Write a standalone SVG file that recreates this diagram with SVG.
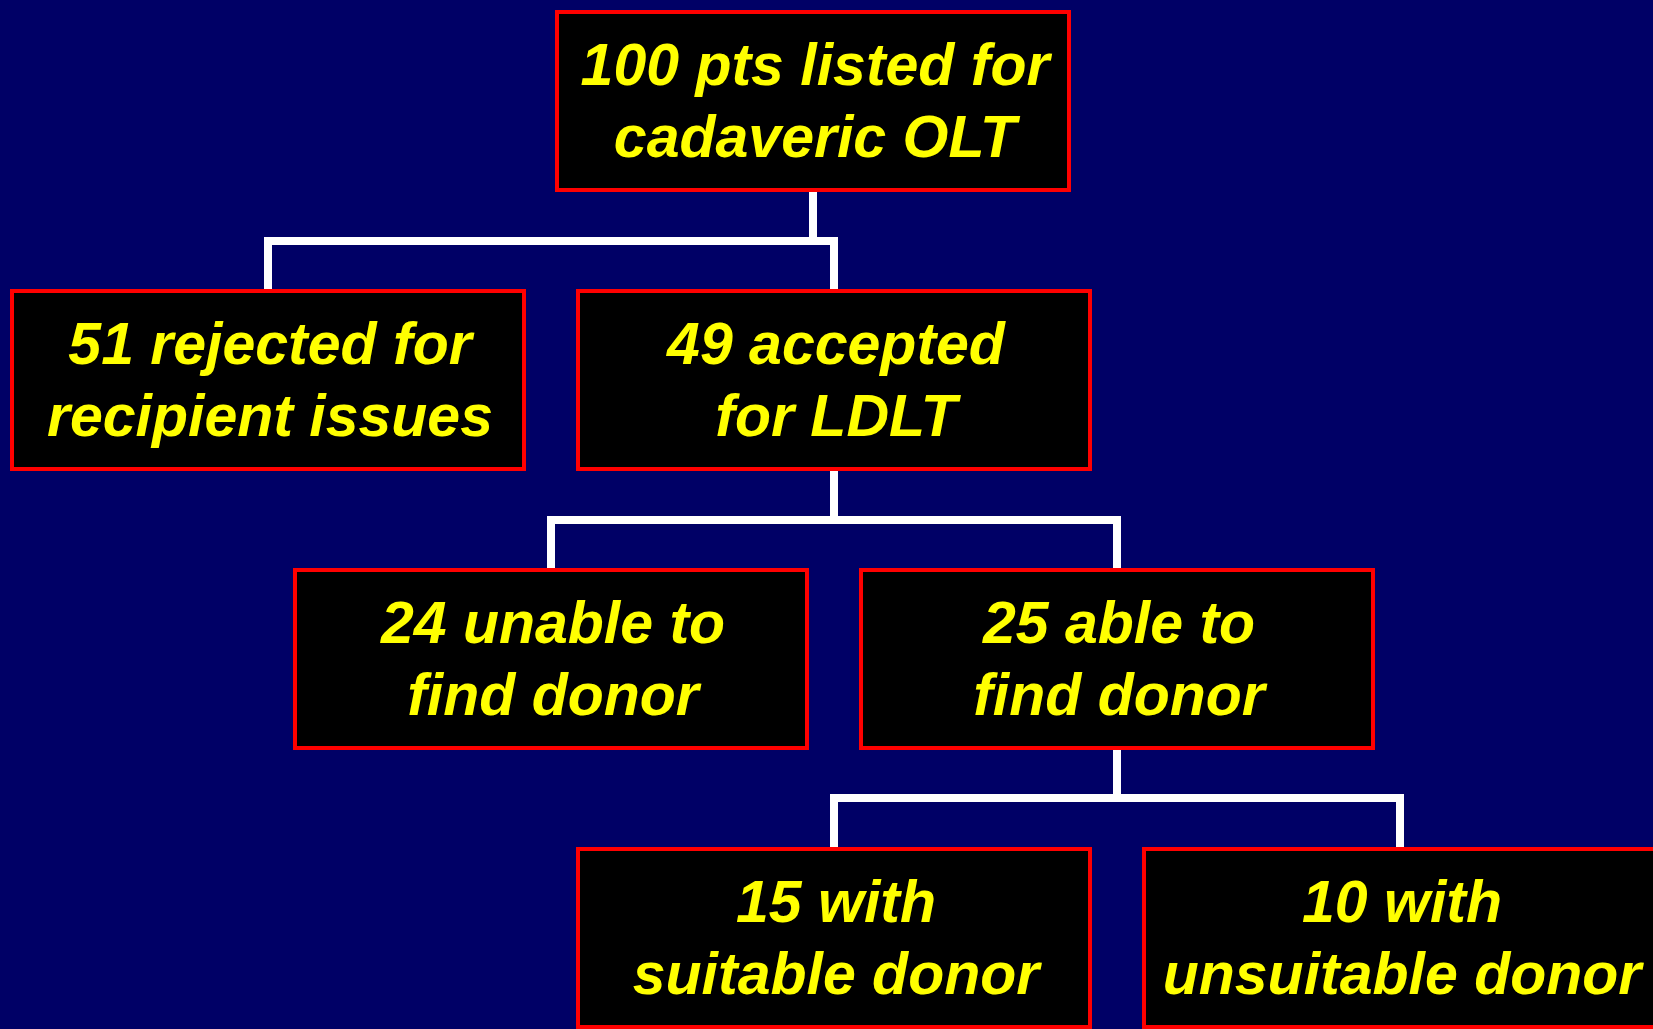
<svg xmlns="http://www.w3.org/2000/svg" width="1653" height="1029" viewBox="0 0 1653 1029">
<style>
.box{fill:#000000;stroke:#FF0000;stroke-width:4}
.lbl{font-family:"Liberation Sans",Arial,sans-serif;font-weight:bold;font-style:italic;font-size:59px;fill:#FFFF00;text-anchor:middle}
.conn{fill:none;stroke:#FFFFFF;stroke-width:8;stroke-linejoin:miter}
</style>
<rect x="0" y="0" width="1653" height="1029" fill="#000066"/>
<g id="connectors">
<path class="conn" d="M813,192 V241 M268,291 V241 H834 V291"/>
<path class="conn" d="M834,471 V520 M551,570 V520 H1117 V570"/>
<path class="conn" d="M1117,750 V798 M834,849 V798 H1400 V849"/>
</g>
<g id="n100">
<rect class="box" x="557" y="12" width="512" height="178"/>
<text class="lbl" x="815" y="85">100 pts listed for</text>
<text class="lbl" x="815" y="157">cadaveric OLT</text>
</g>
<g id="n51">
<rect class="box" x="12" y="291" width="512" height="178"/>
<text class="lbl" x="270" y="364">51 rejected for</text>
<text class="lbl" x="270" y="436">recipient issues</text>
</g>
<g id="n49">
<rect class="box" x="578" y="291" width="512" height="178"/>
<text class="lbl" x="836" y="364">49 accepted</text>
<text class="lbl" x="836" y="436">for LDLT</text>
</g>
<g id="n24">
<rect class="box" x="295" y="570" width="512" height="178"/>
<text class="lbl" x="553" y="643">24 unable to</text>
<text class="lbl" x="553" y="715">find donor</text>
</g>
<g id="n25">
<rect class="box" x="861" y="570" width="512" height="178"/>
<text class="lbl" x="1119" y="643">25 able to</text>
<text class="lbl" x="1119" y="715">find donor</text>
</g>
<g id="n15">
<rect class="box" x="578" y="849" width="512" height="178"/>
<text class="lbl" x="836" y="922">15 with</text>
<text class="lbl" x="836" y="994">suitable donor</text>
</g>
<g id="n10">
<rect class="box" x="1144" y="849" width="512" height="178"/>
<text class="lbl" x="1402" y="922">10 with</text>
<text class="lbl" x="1402" y="994">unsuitable donor</text>
</g>
</svg>
